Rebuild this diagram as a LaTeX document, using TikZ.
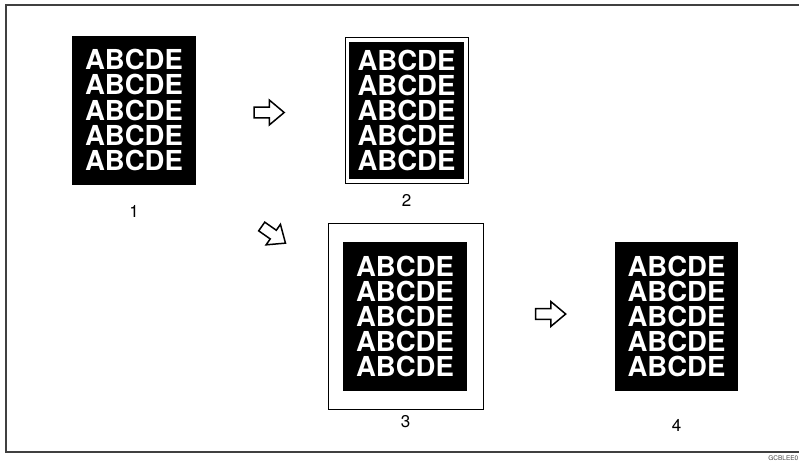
\documentclass[tikz,border=0pt]{standalone}
\usepackage{fontspec}
\setsansfont{TeX Gyre Heros}
\usetikzlibrary{positioning, shapes.arrows}

\newcommand{\abcde}{ABCDE\\ABCDE\\ABCDE\\ABCDE\\ABCDE}

\begin{document}
\begin{tikzpicture}[
  x=1pt, y=-1pt,
  font=\sffamily,
  sheet/.style={fill=black, text=white, inner sep=0pt, align=center,
    minimum width=124pt, minimum height=149pt,
    font=\sffamily\bfseries\fontsize{27.5}{25.2}\selectfont},
  paper/.style={draw, line width=0.8pt, inner sep=0pt},
  number/.style={font=\sffamily\fontsize{17}{17}\selectfont},
  blockarrow/.style={single arrow, draw, line width=1.5pt, fill=white,
    minimum height=30pt, minimum width=25pt, inner sep=4.5pt,
    single arrow tip angle=80, single arrow head indent=0pt}
]
\useasboundingbox (0,0) rectangle (799,463);

% Outer frame (right side runs off the page)
\draw[line width=1.3pt, black!75] (801,5) -- (6,5) -- (6,452) -- (801,452);
\node[font=\sffamily\fontsize{6.5}{6.5}\selectfont, anchor=east, black!70, inner sep=0.5pt] (code) at (799,458) {GCBLEE0};

% Original page
\node[sheet] (page1) at (134,110) {\abcde};
\node[number] (lbl1) at (134,211) {1};

% Reduced copy on paper
\node[paper, minimum width=123pt, minimum height=146pt] (paper2) at (406.5,110) {};
\node[sheet, minimum width=115pt, minimum height=137pt] (page2) at (406.5,110.5) {\abcde};
\node[number] (lbl2) at (406.5,200) {2};

% Copy with margin
\node[paper, minimum width=155pt, minimum height=186pt] (paper3) at (405.5,316) {};
\node[sheet] (page3) at (405,316.5) {\abcde};
\node[number] (lbl3) at (405.5,422) {3};

% Final copy
\node[sheet, minimum width=123pt] (page4) at (676.5,316.5) {\abcde};
\node[number] (lbl4) at (676.5,425) {4};

% Process arrows
\node[blockarrow] (arr1) at (266,112.5) {};
\node[blockarrow, rotate=-35, minimum height=29pt] (arr2) at (271,233) {};
\node[blockarrow] (arr3) at (547.5,314) {};

\end{tikzpicture}
\end{document}
